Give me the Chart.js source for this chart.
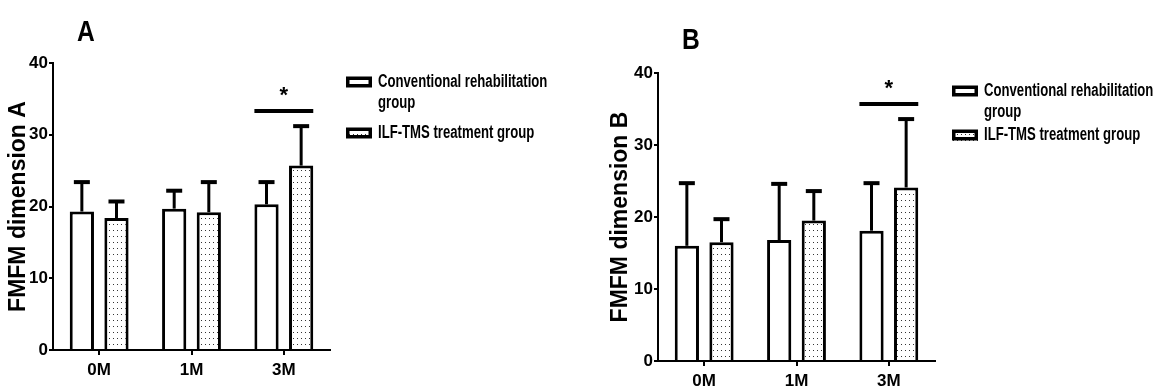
<!DOCTYPE html>
<html>
<head>
<meta charset="utf-8">
<script src="https://cdn.jsdelivr.net/npm/chart.js@4.4.1/dist/chart.umd.min.js"></script>
<style>
  html, body { margin: 0; padding: 0; background: #fff; }
  canvas { position: absolute; top: 0; }
  #chartA { left: 0; }
  #chartB { left: 580px; }
</style>
</head>
<body>
<canvas id="chartA" width="580" height="388"></canvas>
<canvas id="chartB" width="576" height="388"></canvas>
<script>
// --- data ---
const months = ["0M", "1M", "3M"];
const groupNames = ["Conventional rehabilitation group", "ILF-TMS treatment group"];
const legendLines = [["Conventional rehabilitation", "group"], ["ILF-TMS treatment group"]];
const yTicks = [0, 10, 20, 30, 40];

// panel A: means and SD (upper error bar)
const convA = [19.3, 19.7, 20.3];
const convA_sd = [4.1, 2.5, 3.1];
const ilfA = [18.4, 19.2, 25.7];
const ilfA_sd = [2.3, 4.2, 5.5];

// panel B
const convB = [16.0, 16.8, 18.1];
const convB_sd = [8.7, 7.8, 6.6];
const ilfB = [16.5, 19.5, 24.1];
const ilfB_sd = [3.2, 4.1, 9.5];

// significance bars (category index, height in y units)
const sigA = { index: 2, level: 33.3, mark: "*" };
const sigB = { index: 2, level: 35.7, mark: "*" };

const SANS = '"Liberation Sans", Arial, sans-serif';

// dotted fill like the GraphPad pattern
function dotPattern() {
    const c = document.createElement("canvas");
    c.width = 4; c.height = 6;
    const g = c.getContext("2d");
    g.fillStyle = "#fff";
    g.fillRect(0, 0, 4, 6);
    g.fillStyle = "#333";
    g.fillRect(1, 2, 1, 1);
    return g.createPattern(c, "repeat");
}
const dots = dotPattern();

// condensed text (the original uses Arial Narrow)
function narrowText(ctx, text, x, y, squeeze) {
    ctx.save();
    ctx.translate(x, y);
    ctx.scale(squeeze, 1);
    ctx.fillText(text, 0, 0);
    ctx.restore();
}

// error bars, significance line, legend and panel letter
const decor = {
    id: "decor",
    afterDatasetsDraw(chart, args, opts) {
        const ctx = chart.ctx;
        const y = chart.scales.y;
        ctx.save();
        ctx.strokeStyle = "#000";
        ctx.fillStyle = "#000";
        chart.data.datasets.forEach((ds, di) => {
            chart.getDatasetMeta(di).data.forEach((bar, i) => {
                const top = y.getPixelForValue(ds.data[i] + ds.errors[i]);
                ctx.lineWidth = 3;
                ctx.beginPath();
                ctx.moveTo(bar.x, bar.y);
                ctx.lineTo(bar.x, top);
                ctx.stroke();
                ctx.lineWidth = 4;
                ctx.beginPath();
                ctx.moveTo(bar.x - 8, top);
                ctx.lineTo(bar.x + 8, top);
                ctx.stroke();
            });
        });

        const s = opts.sig;
        const b0 = chart.getDatasetMeta(0).data[s.index];
        const b1 = chart.getDatasetMeta(1).data[s.index];
        const sy = y.getPixelForValue(s.level);
        ctx.lineWidth = 4;
        ctx.beginPath();
        ctx.moveTo(b0.x - b0.width / 2, sy);
        ctx.lineTo(b1.x + b1.width / 2, sy);
        ctx.stroke();
        ctx.font = "bold 22px " + SANS;
        ctx.textAlign = "center";
        ctx.textBaseline = "middle";
        ctx.fillText(s.mark, (b0.x + b1.x) / 2, sy - 15);
        ctx.restore();
    },
    afterDraw(chart, args, opts) {
        const ctx = chart.ctx;
        ctx.save();
        ctx.fillStyle = "#000";
        ctx.textBaseline = "middle";

        // panel letter
        ctx.font = "bold 30px " + SANS;
        ctx.textAlign = "center";
        narrowText(ctx, opts.letter.text, opts.letter.x, opts.letter.y, 0.82);

        // legend
        const L = opts.legend;
        ctx.textAlign = "left";
        ctx.font = "bold 18px " + SANS;
        chart.data.datasets.forEach((ds, di) => {
            const cy = L.rows[di];
            ctx.fillStyle = ds.backgroundColor;
            ctx.fillRect(L.x, cy - 5, 26, 11);
            ctx.strokeStyle = "#000";
            ctx.lineWidth = 3.5;
            ctx.strokeRect(L.x + 1.75, cy - 3.75, 22.5, 7.5);
            ctx.fillStyle = "#000";
            legendLines[di].forEach((line, li) => {
                narrowText(ctx, line, L.x + 32, cy + li * L.gap, 0.73);
            });
        });
        ctx.restore();
    }
};

function makeChart(id, conv, convSd, ilf, ilfSd, yTitle, cfg) {
    const axisFont = { family: SANS, size: 17, weight: "bold" };
    const barStyle = { borderColor: "#000", borderWidth: 3, categoryPercentage: 0.75, barPercentage: 0.7 };
    return new Chart(document.getElementById(id), {
        type: "bar",
        data: {
            labels: months,
            datasets: [
                Object.assign({ label: groupNames[0], data: conv, errors: convSd, backgroundColor: "#fff" }, barStyle),
                Object.assign({ label: groupNames[1], data: ilf, errors: ilfSd, backgroundColor: dots }, barStyle)
            ]
        },
        options: {
            responsive: false,
            animation: false,
            layout: { padding: cfg.padding },
            scales: {
                x: {
                    grid: { drawOnChartArea: false, offset: false, color: "#000", lineWidth: 2, tickLength: 5 },
                    border: { color: "#000", width: 2 },
                    ticks: { color: "#000", font: axisFont, padding: 5 },
                    afterFit: s => { s.height = cfg.xHeight; }
                },
                y: {
                    min: 0,
                    max: 40,
                    afterBuildTicks: s => { s.ticks = yTicks.map(v => ({ value: v })); },
                    grid: { drawOnChartArea: false, color: "#000", lineWidth: 2, tickLength: 4 },
                    border: { color: "#000", width: 2 },
                    ticks: { color: "#000", font: axisFont, padding: 1 },
                    title: {
                        display: true,
                        text: yTitle,
                        color: "#000",
                        font: { family: SANS, size: 23, weight: "bold" },
                        padding: { top: cfg.titlePad, bottom: 0 }
                    },
                    afterFit: s => { s.width = cfg.yWidth; }
                }
            },
            plugins: {
                legend: { display: false },
                tooltip: { enabled: false },
                decor: { sig: cfg.sig, letter: cfg.letter, legend: cfg.legend }
            }
        },
        plugins: [decor]
    });
}

makeChart("chartA", convA, convA_sd, ilfA, ilfA_sd, "FMFM dimension A", {
    padding: { left: 0, right: 250, top: 63, bottom: 0 },
    yWidth: 53, xHeight: 38, titlePad: 5,
    sig: sigA,
    letter: { text: "A", x: 86, y: 33 },
    legend: { x: 346, rows: [82, 133], gap: 21 }
});

makeChart("chartB", convB, convB_sd, ilfB, ilfB_sd, "FMFM dimension B", {
    padding: { left: 0, right: 221, top: 73, bottom: 0 },
    yWidth: 78, xHeight: 27, titlePad: 27,
    sig: sigB,
    letter: { text: "B", x: 111, y: 41 },
    legend: { x: 372, rows: [91, 135], gap: 21 }
});
</script>
</body>
</html>
